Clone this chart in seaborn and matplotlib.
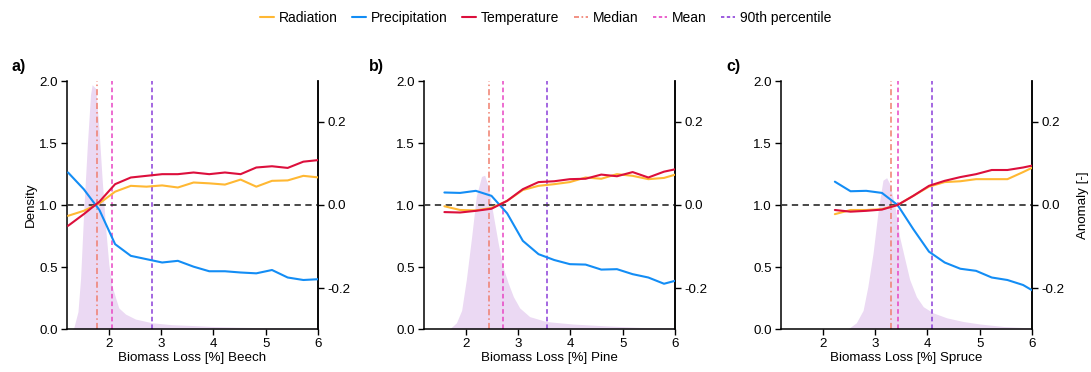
import numpy as np
import pandas as pd
import matplotlib
matplotlib.use("Agg")
import matplotlib.pyplot as plt
from matplotlib.lines import Line2D
import seaborn as sns

sns.set_theme(style="ticks")
plt.rcParams['font.family'] = ['Liberation Sans', 'DejaVu Sans']
plt.rcParams['axes.unicode_minus'] = False
plt.rcParams['text.color'] = 'black'
plt.rcParams['axes.labelcolor'] = 'black'
plt.rcParams['xtick.color'] = 'black'
plt.rcParams['ytick.color'] = 'black'

# ---------------- data ----------------
species = ["Beech", "Pine", "Spruce"]
panel_labels = ["a)", "b)", "c)"]

# anomaly lines (right axis)
a_x = [1.22, 1.52, 1.82, 2.12, 2.42, 2.72, 3.02, 3.32, 3.62, 3.92, 4.22, 4.52, 4.82, 5.12, 5.42, 5.72, 6.02]
a_rad = [-0.026, -0.014, 0.004, 0.032, 0.046, 0.044, 0.047, 0.042, 0.054, 0.052, 0.049, 0.061, 0.044, 0.058, 0.059, 0.070, 0.066]
a_pre = [0.078, 0.038, -0.012, -0.094, -0.122, -0.130, -0.138, -0.134, -0.148, -0.159, -0.159, -0.162, -0.164, -0.156, -0.174, -0.180, -0.178]
a_tem = [-0.050, -0.022, 0.008, 0.050, 0.066, 0.070, 0.074, 0.074, 0.078, 0.074, 0.078, 0.074, 0.090, 0.093, 0.089, 0.104, 0.108]

b_x = [1.59, 1.89, 2.19, 2.49, 2.79, 3.09, 3.39, 3.69, 3.99, 4.29, 4.59, 4.89, 5.19, 5.49, 5.79, 6.09]
b_rad = [-0.003, -0.012, -0.013, -0.007, 0.010, 0.036, 0.046, 0.050, 0.055, 0.066, 0.063, 0.074, 0.070, 0.062, 0.065, 0.076]
b_pre = [0.030, 0.029, 0.034, 0.022, -0.020, -0.086, -0.118, -0.132, -0.142, -0.143, -0.155, -0.154, -0.166, -0.174, -0.189, -0.179]
b_tem = [-0.017, -0.018, -0.014, -0.009, 0.010, 0.038, 0.055, 0.057, 0.062, 0.063, 0.073, 0.069, 0.079, 0.066, 0.080, 0.088]

c_x = [2.23, 2.53, 2.83, 3.13, 3.43, 3.73, 4.03, 4.33, 4.63, 4.93, 5.23, 5.53, 5.83, 6.13]
c_rad = [-0.022, -0.012, -0.012, -0.010, 0.000, 0.022, 0.044, 0.055, 0.057, 0.062, 0.062, 0.062, 0.079, 0.097]
c_pre = [0.056, 0.033, 0.034, 0.029, 0.000, -0.058, -0.112, -0.138, -0.153, -0.158, -0.174, -0.180, -0.192, -0.214]
c_tem = [-0.012, -0.016, -0.014, -0.011, 0.000, 0.022, 0.046, 0.058, 0.067, 0.074, 0.084, 0.084, 0.090, 0.098]

# density curves (left axis)
a_dx = [1.30, 1.33, 1.41, 1.46, 1.52, 1.59, 1.65, 1.68, 1.75, 1.81, 1.87, 1.94, 2.00, 2.06, 2.13, 2.19, 2.32, 2.51, 2.83, 3.2, 3.6, 4.0, 4.5, 5.0, 5.5, 6.0]
a_dy = [0.0, 0.01, 0.14, 0.41, 0.95, 1.49, 1.89, 1.97, 1.94, 1.62, 1.22, 0.81, 0.52, 0.35, 0.25, 0.17, 0.12, 0.08, 0.05, 0.035, 0.028, 0.02, 0.014, 0.01, 0.007, 0.005]
b_dx = [1.69, 1.82, 1.92, 2.01, 2.11, 2.20, 2.30, 2.36, 2.43, 2.52, 2.62, 2.71, 2.81, 2.91, 3.03, 3.22, 3.54, 4.05, 4.69, 5.33, 6.0]
b_dy = [0.0, 0.05, 0.15, 0.40, 0.74, 1.07, 1.23, 1.24, 1.15, 0.93, 0.69, 0.50, 0.37, 0.26, 0.17, 0.10, 0.06, 0.04, 0.025, 0.013, 0.008]
c_dx = [2.48, 2.64, 2.77, 2.86, 2.96, 3.06, 3.15, 3.22, 3.28, 3.38, 3.47, 3.57, 3.66, 3.79, 3.92, 4.11, 4.37, 4.69, 5.01, 5.46, 6.0]
c_dy = [0.0, 0.05, 0.15, 0.34, 0.61, 0.96, 1.20, 1.22, 1.17, 0.99, 0.74, 0.56, 0.40, 0.26, 0.18, 0.13, 0.09, 0.06, 0.04, 0.02, 0.008]

# statistics (vertical lines)
medians = [1.78, 2.45, 3.31]
means = [2.07, 2.71, 3.44]
p90s = [2.82, 3.55, 4.09]

series_names = ["Radiation", "Precipitation", "Temperature"]
# ---------------------------------------

colors = {"Radiation": "#FFB833", "Precipitation": "#138DF5", "Temperature": "#DC0F3C"}
c_med = "#F07E6E"
c_mean = "#E845C4"
c_p90 = "#8B3FD9"
c_fill = "#EBD9F3"

FS = 9.6

panels = [
    (a_x, a_rad, a_pre, a_tem, a_dx, a_dy),
    (b_x, b_rad, b_pre, b_tem, b_dx, b_dy),
    (c_x, c_rad, c_pre, c_tem, c_dx, c_dy),
]

fig = plt.figure(figsize=(10.91, 3.72), dpi=100)
W, H = 1091.0, 372.0
lefts = [67, 424, 781]
width = 251
bottom = 43
height = 248

for i, (xs, rad, pre, tem, dx, dy) in enumerate(panels):
    ax = fig.add_axes([lefts[i] / W, bottom / H, width / W, height / H])
    ax.fill_between(dx, 0, dy, color=c_fill, linewidth=0, zorder=1)
    ax.axvline(medians[i], color=c_med, linestyle=(0, (4, 2, 1, 2)), linewidth=1.1, zorder=2)
    ax.axvline(means[i], color=c_mean, linestyle=(0, (3, 2)), linewidth=1.1, zorder=2)
    ax.axvline(p90s[i], color=c_p90, linestyle=(0, (3, 2)), linewidth=1.1, zorder=2)
    ax.set_xlim(1.2, 6)
    ax.set_ylim(0, 2)
    ax.set_yticks([0, 0.5, 1.0, 1.5, 2.0])
    ax.set_yticklabels(["0.0", "0.5", "1.0", "1.5", "2.0"])
    ax.set_xticks([2, 3, 4, 5, 6])
    ax.set_xlabel(f"Biomass Loss [%] {species[i]}", fontsize=FS, labelpad=1.5)
    if i == 0:
        ax.set_ylabel("Density", fontsize=FS, labelpad=2)
    ax.tick_params(axis='both', labelsize=FS, length=4, width=1, pad=2.5, direction='out', color='black')
    ax.spines["top"].set_visible(False)
    for s in ["left", "bottom", "right"]:
        ax.spines[s].set_color("black")
        ax.spines[s].set_linewidth(1.1)

    ax2 = ax.twinx()
    df = pd.DataFrame({
        "x": list(xs) * 3,
        "anom": list(rad) + list(pre) + list(tem),
        "var": [series_names[0]] * len(xs) + [series_names[1]] * len(xs) + [series_names[2]] * len(xs),
    })
    ax2.axhline(0, color="#3a3a3a", linestyle=(0, (3.5, 2.5)), linewidth=1.3, zorder=1)
    sns.lineplot(data=df, x="x", y="anom", hue="var", palette=colors, ax=ax2,
                 legend=False, sort=False, estimator=None, linewidth=1.5, zorder=3)
    ax2.set_xlim(1.2, 6)
    ax2.set_ylim(-0.2976, 0.2976)
    ax2.set_yticks([-0.2, 0.0, 0.2])
    ax2.set_yticklabels(["-0.2", "0.0", "0.2"])
    ax2.set_xlabel("")
    ax2.set_ylabel("Anomaly [-]" if i == 2 else "", fontsize=FS, labelpad=9)
    ax2.tick_params(axis='y', labelsize=FS, length=4, width=1, pad=2.5, direction='out', color='black')
    ax2.spines["top"].set_visible(False)
    ax2.spines["left"].set_visible(False)
    ax2.spines["bottom"].set_visible(False)
    ax2.spines["right"].set_color("black")
    ax2.spines["right"].set_linewidth(1.1)

    fig.text((lefts[i] - 55) / W, 1 - 67 / H, panel_labels[i], fontsize=11.5,
             fontweight="bold", ha="left", va="center")

handles = [
    Line2D([], [], color=colors["Radiation"], lw=1.5),
    Line2D([], [], color=colors["Precipitation"], lw=1.5),
    Line2D([], [], color=colors["Temperature"], lw=1.5),
    Line2D([], [], color=c_med, lw=1.2, linestyle=(0, (3, 1.5, 1, 1.5))),
    Line2D([], [], color=c_mean, lw=1.2, linestyle=(0, (2, 1.5))),
    Line2D([], [], color=c_p90, lw=1.2, linestyle=(0, (2, 1.5))),
]
labels = ["Radiation", "Precipitation", "Temperature", "Median", "Mean", "90th percentile"]
fig.legend(handles, labels, loc="center", bbox_to_anchor=(0.5, 1 - 18 / H), ncol=6,
           frameon=False, fontsize=10, handlelength=1.0, handletextpad=0.35, columnspacing=1.05)

fig.savefig("out.png", dpi=100)
